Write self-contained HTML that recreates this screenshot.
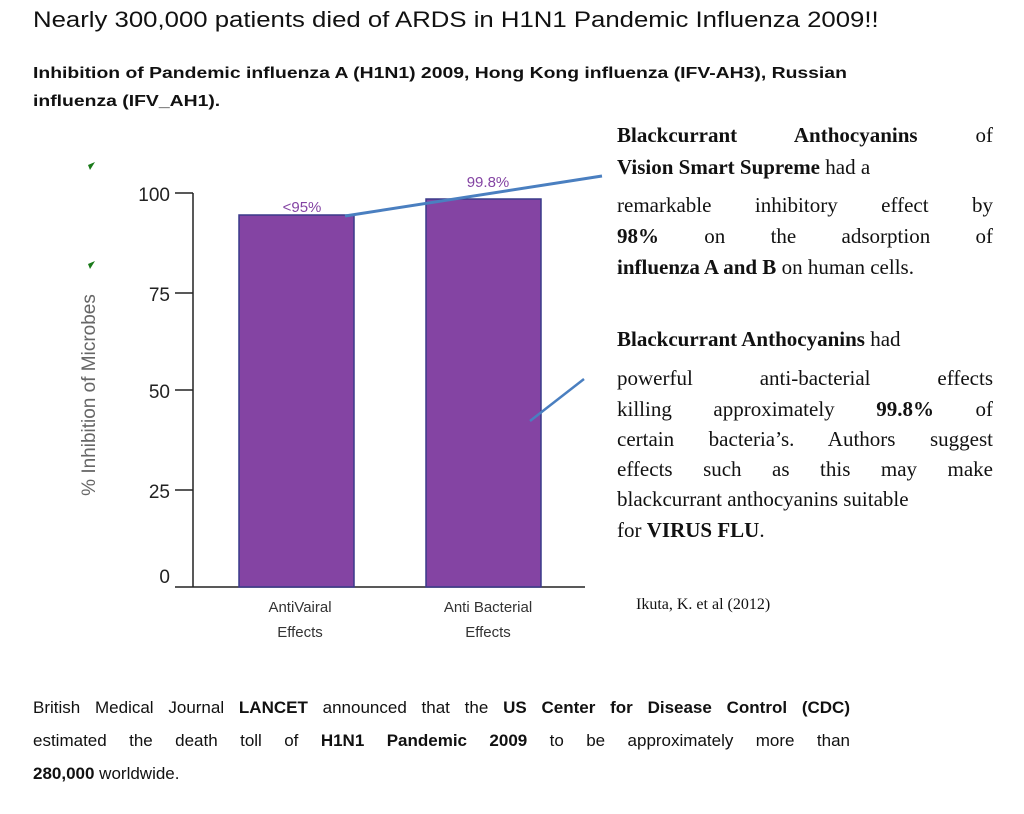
<!DOCTYPE html>
<html><head><meta charset="utf-8"><style>
body{margin:0;width:1024px;height:814px;background:#fff;position:relative;overflow:hidden;font-family:"Liberation Sans",sans-serif;color:#111}
.a{position:absolute;white-space:nowrap}
.l{position:absolute;left:617px;width:376px;font-family:"Liberation Serif",serif;font-size:21px;line-height:31px;height:31px;text-align:justify;text-align-last:justify;white-space:normal}
.n{text-align-last:left}
.sx{display:inline-block;transform-origin:0 0}
.b{position:absolute;left:33px;width:817px;font-size:17px;line-height:33px;height:33px;text-align:justify;text-align-last:justify}
</style></head><body>
<div class="a" style="left:33px;top:7px;font-size:22px"><span class="sx" style="transform:scaleX(1.17)">Nearly 300,000 patients died of ARDS in H1N1 Pandemic Influenza 2009!!</span></div>
<div class="a" style="left:33px;top:60px;font-size:16px;font-weight:bold;line-height:28px"><span class="sx" style="transform:scaleX(1.21)">Inhibition of Pandemic influenza A (H1N1) 2009, Hong Kong influenza (IFV-AH3), Russian<br>influenza (IFV_AH1).</span></div>
<svg class="a" style="left:0;top:0" width="1024" height="814">
<polygon points="88,165 95,162 90,170" fill="#1a7a1a"/>
<polygon points="88,264 95,261 90,269" fill="#1a7a1a"/>
<line x1="193" y1="193" x2="193" y2="587" stroke="#222" stroke-width="1.5"/>
<line x1="175" y1="587" x2="585" y2="587" stroke="#222" stroke-width="1.5"/>
<g stroke="#222" stroke-width="1.5"><line x1="175" y1="193" x2="193" y2="193"/><line x1="175" y1="293" x2="193" y2="293"/><line x1="175" y1="390" x2="193" y2="390"/><line x1="175" y1="490" x2="193" y2="490"/></g>
<g font-size="19" text-anchor="end" fill="#222"><text x="170" y="201">100</text><text x="170" y="301">75</text><text x="170" y="398">50</text><text x="170" y="498">25</text><text x="170" y="583">0</text></g>
<text transform="translate(95,395) rotate(-90)" font-size="19" text-anchor="middle" fill="#666">% Inhibition of Microbes</text>
<rect x="239" y="215" width="115" height="372" fill="#8444a3" stroke="#3a3a8a" stroke-width="1.5"/>
<rect x="426" y="199" width="115" height="388" fill="#8444a3" stroke="#3a3a8a" stroke-width="1.5"/>
<text x="302" y="212" font-size="15" fill="#8444a3" text-anchor="middle">&lt;95%</text>
<text x="488" y="187" font-size="15" fill="#8444a3" text-anchor="middle">99.8%</text>
<line x1="345" y1="216" x2="602" y2="176" stroke="#4a7fc0" stroke-width="3"/>
<line x1="530" y1="421" x2="584" y2="379" stroke="#4a7fc0" stroke-width="2.5"/>
<g font-size="15" fill="#333" text-anchor="middle"><text x="300" y="612">AntiVairal</text><text x="300" y="637">Effects</text><text x="488" y="612">Anti Bacterial</text><text x="488" y="637">Effects</text></g>
</svg>
<div class="l" style="top:120px"><b>Blackcurrant Anthocyanins</b> of</div>
<div class="l n" style="top:152px"><b>Vision Smart Supreme</b> had a</div>
<div class="l" style="top:190px">remarkable inhibitory effect by</div>
<div class="l" style="top:221px"><b>98%</b> on the adsorption of</div>
<div class="l n" style="top:252px"><b>influenza A and B</b> on human cells.</div>
<div class="l n" style="top:324px"><b>Blackcurrant Anthocyanins</b> had</div>
<div class="l" style="top:363px">powerful anti-bacterial effects</div>
<div class="l" style="top:394px">killing approximately <b>99.8%</b> of</div>
<div class="l" style="top:424px">certain bacteria’s. Authors suggest</div>
<div class="l" style="top:454px">effects such as this may make</div>
<div class="l n" style="top:484px">blackcurrant anthocyanins suitable</div>
<div class="l n" style="top:515px">for <b>VIRUS FLU</b>.</div>
<div class="a" style="left:636px;top:596px;font-family:'Liberation Serif',serif;font-size:16px">Ikuta, K. et al (2012)</div>
<div class="b" style="top:691px">British Medical Journal <b>LANCET</b> announced that the <b>US Center for Disease Control (CDC)</b></div>
<div class="b" style="top:724px">estimated the death toll of <b>H1N1 Pandemic 2009</b> to be approximately more than</div>
<div class="b" style="top:757px;text-align-last:left"><b>280,000</b> worldwide.</div>
</body></html>
